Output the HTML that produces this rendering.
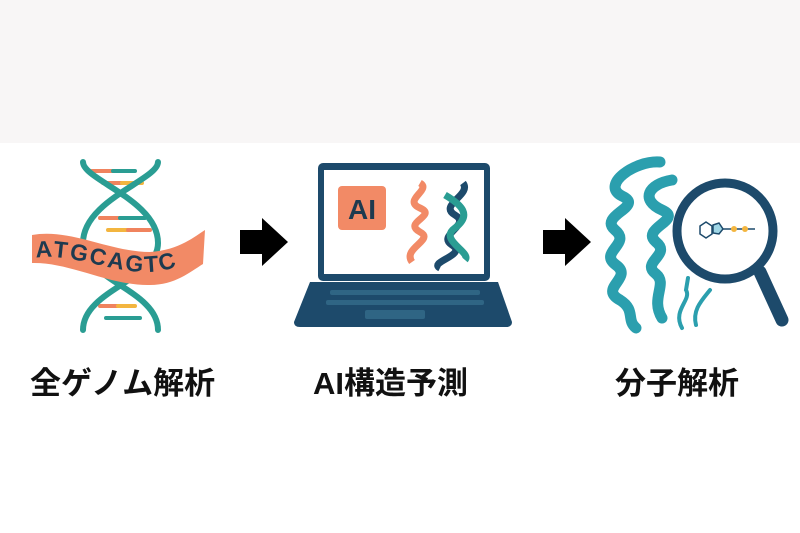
<!DOCTYPE html>
<html><head><meta charset="utf-8"><style>
html,body{margin:0;padding:0;background:#fff}
body{width:800px;height:533px;position:relative;overflow:hidden}
.top{position:absolute;left:0;top:0;width:800px;height:143px;background:#f8f6f6}
.lbl{position:absolute;top:358px;font-family:"Liberation Sans","Noto Sans CJK JP",sans-serif;font-size:31px;font-weight:bold;color:#111;white-space:nowrap}
</style></head><body>
<div class="top"></div>
<svg width="800" height="533" style="position:absolute;left:0;top:0">
<!-- DNA -->
<g stroke-linecap="round" fill="none">
<g stroke-width="4">
<line x1="92" y1="171" x2="113" y2="171" stroke="#f0835e"/><line x1="113" y1="171" x2="135" y2="171" stroke="#2a9d93"/>
<line x1="103" y1="183" x2="122" y2="183" stroke="#f0835e"/><line x1="122" y1="183" x2="142" y2="183" stroke="#f3b53f"/>
<line x1="100" y1="218" x2="120" y2="218" stroke="#f0835e"/><line x1="120" y1="218" x2="145" y2="218" stroke="#2a9d93"/>
<line x1="108" y1="230" x2="128" y2="230" stroke="#f3b53f"/><line x1="128" y1="230" x2="150" y2="230" stroke="#f0835e"/>
<line x1="100" y1="306" x2="118" y2="306" stroke="#f0835e"/><line x1="118" y1="306" x2="135" y2="306" stroke="#f3b53f"/>
<line x1="106" y1="318" x2="140" y2="318" stroke="#2a9d93"/>
</g>
<path d="M83 162 C83 180 158 200 158 243 C158 280 83 290 83 330" stroke="#2a9d93" stroke-width="6"/>
<path d="M158 162 C158 180 83 200 83 243 C83 280 158 290 158 330" stroke="#2a9d93" stroke-width="6"/>
</g>
<path d="M32 235 C70 228 110 252 150 252 C180 250 195 236 205 230 L203 264 C190 272 175 285 150 285 C110 286 70 262 32 263 Z" fill="#f28a66"/>
<path id="bp" d="M36 258 C70 252 110 273 150 272 C175 271 190 260 205 254" fill="none"/>
<text font-family="Liberation Sans,sans-serif" font-weight="bold" font-size="23" fill="#1e3a4f" letter-spacing="2"><textPath href="#bp">ATGCAGTC</textPath></text>
<!-- arrows -->
<path d="M240 230 H262 V218 L288 242 L262 266 V254 H240 Z" fill="#000"/>
<path d="M543 230 H565 V218 L591 242 L565 266 V254 H543 Z" fill="#000"/>
<!-- laptop -->
<rect x="318" y="163" width="172" height="118" rx="5" fill="#1d4a6b"/>
<rect x="324" y="170" width="160" height="104" fill="#fff"/>
<path d="M310 282 H498 L512 322 Q512 327 506 327 H300 Q294 327 294 322 Z" fill="#1d4a6b"/>
<g fill="#2f6584"><rect x="330" y="290" width="150" height="5" rx="2"/><rect x="326" y="300" width="158" height="5" rx="2"/></g>
<rect x="365" y="310" width="60" height="9" rx="2" fill="#2f6584"/>
<rect x="338" y="186" width="48" height="44" rx="4" fill="#f28a66"/>
<text x="362" y="219" text-anchor="middle" font-family="Liberation Sans,sans-serif" font-weight="bold" font-size="28" fill="#1e3a4f">AI</text>
<path d="M420 183 C432 190 402 200 420 208 C438 216 402 222 420 232 C435 240 402 248 412 262" stroke="#f28a66" stroke-width="7" fill="none"/>
<path d="M463 183 C472 195 438 205 455 215 C472 225 436 235 452 245 C468 255 428 262 440 268" stroke="#1d4a6b" stroke-width="7" fill="none"/>
<path d="M445 195 C462 205 472 215 455 228 C438 240 472 252 465 260" stroke="#2a9d93" stroke-width="7" fill="none"/>
<!-- protein -->
<g fill="none" stroke="#2b9fae" stroke-width="11" stroke-linecap="round">
<path d="M660 162 C635 160 600 185 622 196 C645 207 598 215 615 230 C632 244 598 252 616 265 C634 278 598 288 620 300 C636 310 626 320 636 328"/>
<path d="M672 180 C648 184 640 200 662 210 C684 220 640 228 656 242 C672 255 640 262 656 274 C668 284 650 298 662 318"/>
</g>
<g fill="none" stroke="#2b9fae" stroke-width="4" stroke-linecap="round"><path d="M682 328 C672 310 692 300 686 290 L688 278"/><path d="M696 325 C692 310 702 300 710 290"/></g>
<!-- magnifier -->
<line x1="760" y1="272" x2="782" y2="320" stroke="#1d4a6b" stroke-width="13" stroke-linecap="round"/>
<circle cx="725" cy="231" r="48" fill="#fff" stroke="#1d4a6b" stroke-width="9"/>
<g fill="none" stroke="#1d4a6b" stroke-width="1.5"><polygon points="700,226 706,222 712,226 712,234 706,238 700,234"/><polygon points="713,225 719,223 723,229 719,234 713,233" fill="#9fd6e6"/><line x1="723" y1="229" x2="755" y2="229"/></g>
<circle cx="734" cy="229" r="3" fill="#f3b53f"/><circle cx="745" cy="229" r="3" fill="#f3b53f"/>
</svg>
<div class="lbl" style="left:30px">全ゲノム解析</div>
<div class="lbl" style="left:313px">AI構造予測</div>
<div class="lbl" style="left:615px">分子解析</div>
</body></html>
